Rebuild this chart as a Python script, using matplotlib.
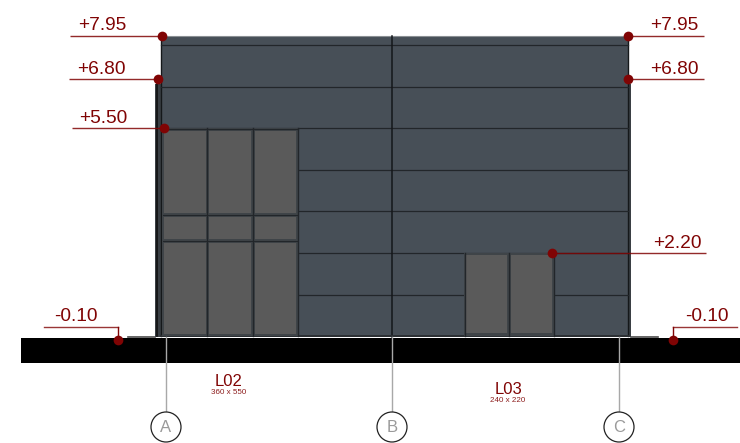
import matplotlib
matplotlib.use('Agg')
import matplotlib.pyplot as plt
from matplotlib.patches import Rectangle, Circle

plt.rcParams['font.family'] = ['Liberation Sans', 'DejaVu Sans']

RED = '#800404'
WALL = '#474f57'
GLASS = '#5a5a5a'
FRAME = '#22262a'
FRAME_FILL = '#3f4448'

# everything below is measured in picture pixels
panel_lines_left = [45, 87, 128]
panel_lines_right = [170, 211, 253, 295]
window_cols = [(164, 205.5), (209, 251), (254.5, 295.5)]
window_rows = [(131, 213), (217, 239), (243, 334)]
window_mullions = [207, 252.5, 297.5]
window_transoms = [215, 241]
door_cols = [(466, 507), (511, 552)]
door_rows = [(255, 333)]
door_mullions = [464.5, 509, 553.5]

# label, text x, text y, line x0, line x1, line y, dot x, dot y
level_marks = [
    ('+7.95', 102, 25.5, 70, 162, 36, 162, 36),
    ('+6.80', 101, 69.5, 69, 157, 79, 157.5, 79),
    ('+5.50', 103, 118.5, 72, 163, 128, 163.5, 128),
    ('+7.95', 674, 25.5, 628, 704, 36, 628, 36),
    ('+6.80', 674, 69.5, 628, 704, 79, 628, 79),
    ('+2.20', 677, 243.5, 552, 706, 253, 552, 253),
]
low_marks = [
    ('-0.10', 75.5, 316.5, 44, 118, 327, 118, 340),
    ('-0.10', 707, 316.5, 673, 737, 327, 673, 340),
]
axis_names = ['A', 'B', 'C']
axis_x = [166, 392, 619]
room_names = ['L02', 'L03']
room_sizes = ['360 x 550', '240 x 220']
room_x = [229, 508]
room_y = [381, 389.5]

fig = plt.figure(figsize=(7.4, 4.43), dpi=100)
ax = fig.add_axes([0, 0, 1, 1])
ax.set_xlim(0, 740)
ax.set_ylim(443, 0)
ax.axis('off')

# ground slab and side strips
ax.add_patch(Rectangle((21, 338), 719, 25, color='black', lw=0, zorder=1))
ax.plot([128, 155], [337.3, 337.3], color='#4a4a4a', lw=1.2, zorder=2)
ax.plot([631, 658], [337.3, 337.3], color='#4a4a4a', lw=1.2, zorder=2)

# facade
ax.add_patch(Rectangle((161, 36), 467, 301, color=WALL, lw=0, zorder=2))
ax.add_patch(Rectangle((155, 84), 6, 253, color='#3a3f44', lw=0, zorder=2))
ax.add_patch(Rectangle((628, 84), 3, 253, color='#3a3f44', lw=0, zorder=2))
ax.plot([157, 157], [84, 336], color='#111111', lw=1.2, zorder=3)
ax.plot([161, 161], [36, 336], color='#15181a', lw=1, zorder=3)
ax.plot([628, 628], [36, 336], color='#15181a', lw=1, zorder=3)
ax.plot([161, 628], [36, 36], color='#8a8f93', lw=0.8, zorder=3)
for y in panel_lines_left:
    ax.plot([161, 628], [y, y], color=FRAME, lw=0.9, zorder=3)
for y in panel_lines_right:
    ax.plot([298, 464 if y > 253 else 628], [y, y], color=FRAME, lw=0.9, zorder=3)
    if y > 253:
        ax.plot([554, 628], [y, y], color=FRAME, lw=0.9, zorder=3)
ax.plot([392, 392], [36, 337], color='#14171a', lw=1.1, zorder=3)
ax.plot([161, 628], [335.7, 335.7], color='#2c3034', lw=1.4, zorder=3)

# window group on the left
ax.add_patch(Rectangle((162, 128), 136, 208, color=FRAME_FILL, lw=0, zorder=4))
for x0, x1 in window_cols:
    for y0, y1 in window_rows:
        ax.add_patch(Rectangle((x0, y0), x1 - x0, y1 - y0, color=GLASS, lw=0, zorder=5))
for x in window_mullions:
    ax.plot([x, x], [128, 336], color=FRAME, lw=1, zorder=6)
for y in window_transoms:
    ax.plot([163, 297], [y, y], color=FRAME, lw=0.8, zorder=6)
ax.plot([162, 298], [128.5, 128.5], color=FRAME, lw=0.9, zorder=6)

# door on the right
ax.add_patch(Rectangle((464, 253), 90, 83, color=FRAME_FILL, lw=0, zorder=4))
for x0, x1 in door_cols:
    for y0, y1 in door_rows:
        ax.add_patch(Rectangle((x0, y0), x1 - x0, y1 - y0, color=GLASS, lw=0, zorder=5))
for x in door_mullions:
    ax.plot([x, x], [253, 336], color=FRAME, lw=1, zorder=6)

# level marks
for label, tx, ty, x0, x1, ly, dx, dy in level_marks:
    ax.plot([x0, x1], [ly, ly], color=RED, lw=1, alpha=0.85, zorder=7, solid_capstyle='butt')
    ax.plot(dx, dy, 'o', color=RED, ms=7, mew=0, zorder=8)
    ax.text(tx, ty, label, color=RED, fontsize=13.8, ha='center', va='center', zorder=8)
for label, tx, ty, x0, x1, ly, dx, dy in low_marks:
    ax.plot([x0, x1], [ly, ly], color=RED, lw=1, alpha=0.8, zorder=7)
    ax.plot([dx, dx], [ly, dy], color=RED, lw=1, zorder=7)
    ax.plot(dx, dy, 'o', color=RED, ms=7, mew=0, zorder=8)
    ax.text(tx, ty, label, color=RED, fontsize=13.8, ha='center', va='center', zorder=8)

# grid axes
for name, x in zip(axis_names, axis_x):
    ax.plot([x, x], [337, 412], color='#a8a8a8', lw=1, zorder=7)
    ax.add_patch(Circle((x, 427), 15, fc='white', ec='#222222', lw=0.9, zorder=8))
    ax.text(x, 427.5, name, color='#9a9a9a', fontsize=12, ha='center', va='center', zorder=9)

# room tags
for name, size, x, y in zip(room_names, room_sizes, room_x, room_y):
    ax.text(x, y, name, color=RED, fontsize=12, ha='center', va='center')
    ax.text(x, y + 11.5, size, color=RED, fontsize=5.8, ha='center', va='center', alpha=0.9)

fig.savefig('out.png', dpi=100)
